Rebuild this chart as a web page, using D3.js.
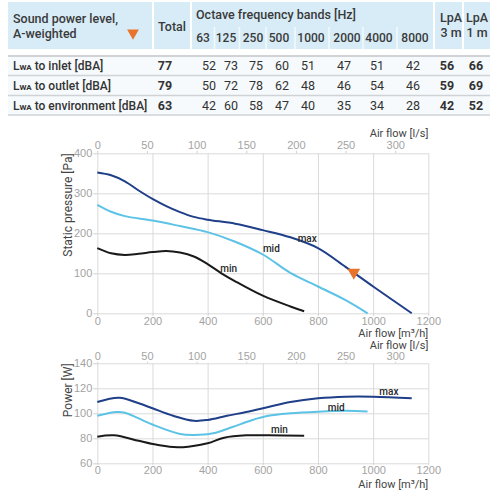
<!DOCTYPE html>
<html>
<head>
<meta charset="utf-8">
<script src="https://cdn.jsdelivr.net/npm/d3@7"></script>
<style>
body { margin: 0; background: #fff; }
svg { font-family: Roboto, "Open Sans", sans-serif; }
.tick text { fill: #a3a3a3; font-size: 11px; }
.ticks line { stroke: #cfcfcf; }
.grid line { stroke: #dadada; }
</style>
</head>
<body>
<svg id="chart" width="500" height="500"></svg>
<script>
// ---- table data ----
const bands = ["63", "125", "250", "500", "1000", "2000", "4000", "8000"];
const rowNames = ["to inlet [dBA]", "to outlet [dBA]", "to environment [dBA]"];
const totals = [77, 79, 63];
const bandValues = [
  [52, 73, 75, 60, 51, 47, 51, 42],
  [50, 72, 78, 62, 48, 46, 54, 46],
  [42, 60, 58, 47, 40, 35, 34, 28]
];
const lpa3 = [56, 59, 42];
const lpa1 = [66, 69, 52];

// ---- curve data: [air flow m3/h, value] ----
const pressureMax = [[0,352],[50,345],[100,330],[150,307],[200,286],[250,268],[300,253],[350,241],[400,234],[500,224],[600,208],[700,190],[800,163],[900,116],[1000,67],[1140,0]];
const pressureMid = [[0,271],[50,254],[100,243],[200,232],[300,218],[400,203],[500,179],[600,147],[700,101],[800,67],[900,33],[980,0]];
const pressureMin = [[0,163],[50,150],[100,146],[150,149],[200,153],[250,156],[300,152],[350,142],[400,123],[450,100],[500,80],[600,44],[700,17],[750,5]];
const powerMax = [[0,109],[80,112.5],[150,108],[200,104],[275,98],[350,94],[400,94.7],[470,98],[540,101],[620,105],[700,109],[800,112],[900,113.3],[1000,113.3],[1140,112]];
const powerMid = [[0,98],[70,101],[100,100.5],[200,91],[300,83.5],[350,82.7],[420,84],[490,89],[560,94.5],[620,98],[700,100],[800,101.3],[900,102],[980,101.5]];
const powerMin = [[0,81.3],[60,82.4],[150,78],[200,75.5],[275,73],[330,73.3],[400,76],[460,80.5],[540,82.4],[620,82.4],[750,82.1]];
const operatingPoint = [930, 100];

const flowTicks = [0, 200, 400, 600, 800, 1000, 1200];
const lsTicks = [0, 50, 100, 150, 200, 250, 300];
const pressureTicks = [0, 100, 200, 300, 400];
const powerTicks = [60, 80, 100, 120, 140];

const colors = { max: "#1f3f88", mid: "#5cc3e6", min: "#1a1a1a" };
const orange = "#e8732c";

const svg = d3.select("#chart");

// ================= TABLE =================
const tbl = svg.append("g");
const headFill = "#d7ecf7";
tbl.append("rect").attr("x", 8).attr("y", 2).attr("width", 482).attr("height", 47).attr("fill", headFill);

// column centres (header / values)
const bandHeadX = [203, 226, 253, 279, 311, 347, 379, 415];
const bandValX = [209, 231, 256, 282, 308, 344, 377, 413];
const totalHeadX = 172, totalValX = 165;
const lpa3HeadX = 451, lpa3ValX = 447;
const lpa1HeadX = 477, lpa1ValX = 476;

// white separators
[153, 191, 434, 463].forEach(x => {
  tbl.append("line").attr("x1", x).attr("x2", x).attr("y1", 2).attr("y2", 49)
    .attr("stroke", "#fff").attr("stroke-width", 2);
});
d3.pairs(bandHeadX).forEach(([a, b]) => {
  const x = (a + b) / 2;
  tbl.append("line").attr("x1", x).attr("x2", x).attr("y1", 27).attr("y2", 49)
    .attr("stroke", "#fff").attr("stroke-opacity", 0.7).attr("stroke-width", 1.5);
});

const headText = (x, y, t, anchor) => tbl.append("text").attr("x", x).attr("y", y)
  .attr("text-anchor", anchor || "middle").attr("font-size", 12.5).attr("font-weight", 500)
  .attr("fill", "#3a3a3a").text(t);

headText(13, 23, "Sound power level,", "start");
headText(13, 38, "A-weighted", "start");
headText(totalHeadX, 31, "Total");
headText(196, 19, "Octave frequency bands [Hz]", "start");
bands.forEach((b, i) => headText(bandHeadX[i], 42, b).attr("font-size", 12));
headText(lpa3HeadX, 22, "LpA"); headText(lpa3HeadX, 37, "3 m");
headText(lpa1HeadX, 22, "LpA"); headText(lpa1HeadX, 37, "1 m");

// orange marker in header
tbl.append("path").attr("d", d3.symbol(d3.symbolTriangle, 60)())
  .attr("transform", "translate(133,33) rotate(180)").attr("fill", orange);

// rows
const rowY = [65, 85, 105];
tbl.append("rect").attr("x", 8).attr("y", 56).attr("width", 482).attr("height", 59).attr("fill", "#f7fafc");
[56, 75.5, 95.5, 115].forEach((y, i) => {
  tbl.append("line").attr("x1", 8).attr("x2", 490).attr("y1", y).attr("y2", y)
    .attr("stroke", "#cfd3d6").attr("stroke-width", i === 0 ? 2 : 1.5);
});

rowNames.forEach((name, r) => {
  const t = tbl.append("text").attr("x", 13).attr("y", rowY[r] + 4.5)
    .attr("font-size", 12).attr("font-weight", 500).attr("fill", "#333");
  t.append("tspan").text("L");
  t.append("tspan").attr("font-size", 8).attr("font-weight", 700).text("WA");
  t.append("tspan").text(" " + name);

  const cell = (x, v, bold) => tbl.append("text").attr("x", x).attr("y", rowY[r] + 4.5)
    .attr("text-anchor", "middle").attr("font-size", 12.5)
    .attr("font-weight", bold ? 700 : 400).attr("fill", "#333").text(v);
  cell(totalValX, totals[r], true);
  bandValues[r].forEach((v, i) => cell(bandValX[i], v, false));
  cell(lpa3ValX, lpa3[r], true);
  cell(lpa1ValX, lpa1[r], true);
});

// ================= CHARTS =================
const x = d3.scaleLinear().domain([0, 1200]).range([97.3, 428.3]);
const xls = d3.scaleLinear().domain([0, 1200 / 3.6]).range([97.3, 428.3]);
const fmt = d3.format("d");

function drawChart(opts) {
  const { y, ticks, title, series, labels, top, bottom, tickSz } = opts;
  const g = svg.append("g");
  const h = bottom - top;

  // grid
  g.append("g").attr("class", "grid").attr("transform", `translate(0,${bottom})`)
    .call(d3.axisBottom(x).tickValues(flowTicks).tickSize(-h).tickFormat(""))
    .call(s => s.select(".domain").remove());
  g.append("g").attr("class", "grid").attr("transform", `translate(${x(0)},0)`)
    .call(d3.axisLeft(y).tickValues(ticks).tickSize(-(x(1200) - x(0))).tickFormat(""))
    .call(s => s.select(".domain").remove());

  // labelled axes
  g.append("g").attr("class", "ticks").attr("transform", `translate(0,${bottom})`)
    .call(d3.axisBottom(x).tickValues(flowTicks).tickSize(tickSz).tickPadding(1.5).tickFormat(fmt))
    .call(s => s.select(".domain").remove());
  g.append("g").attr("class", "ticks").attr("transform", `translate(0,${top})`)
    .call(d3.axisTop(xls).tickValues(lsTicks).tickSize(tickSz).tickPadding(1.5).tickFormat(fmt))
    .call(s => s.select(".domain").remove());
  g.append("g").attr("class", "ticks").attr("transform", `translate(${x(0)},0)`)
    .call(d3.axisLeft(y).tickValues(ticks).tickSize(4).tickPadding(1).tickFormat(fmt))
    .call(s => s.select(".domain").remove());

  // axis titles
  g.append("text").attr("transform", `translate(72,${top}) rotate(-90)`)
    .attr("text-anchor", "end").attr("font-size", 12).attr("fill", "#444").text(title);
  g.append("text").attr("x", x(1200)).attr("y", opts.lsTitleY).attr("text-anchor", "end")
    .attr("font-size", 11).attr("fill", "#444").text("Air flow [l/s]");
  g.append("text").attr("x", x(1200)).attr("y", opts.m3TitleY).attr("text-anchor", "end")
    .attr("font-size", 11).attr("fill", "#444").text("Air flow [m³/h]");

  // curves
  const line = d3.line().x(d => x(d[0])).y(d => y(d[1])).curve(d3.curveCatmullRom.alpha(0.5));
  series.forEach(s => {
    g.append("path").datum(s.data).attr("d", line).attr("fill", "none")
      .attr("stroke", colors[s.name]).attr("stroke-width", 2);
  });
  labels.forEach(l => {
    g.append("text").attr("x", x(l.at[0])).attr("y", y(l.at[1]) + 3.5)
      .attr("text-anchor", "middle").attr("font-size", 10).attr("font-weight", 500)
      .attr("fill", "#2a2a2a").text(l.name);
  });
  return g;
}

const yP = d3.scaleLinear().domain([0, 400]).range([313.3, 153.3]);
const g1 = drawChart({
  y: yP, ticks: pressureTicks, title: "Static pressure [Pa]", top: 153.3, bottom: 313.3, tickSz: 2.5,
  lsTitleY: 136.5, m3TitleY: 337,
  series: [{ name: "max", data: pressureMax }, { name: "mid", data: pressureMid }, { name: "min", data: pressureMin }],
  labels: [{ name: "max", at: [761, 188] }, { name: "mid", at: [631, 161] }, { name: "min", at: [476, 113] }]
});
g1.append("path").attr("d", d3.symbol(d3.symbolTriangle, 70)())
  .attr("transform", `translate(${x(operatingPoint[0])},${yP(operatingPoint[1]) - 1}) rotate(180)`)
  .attr("fill", orange);

const yW = d3.scaleLinear().domain([60, 140]).range([463.3, 363.3]);
drawChart({
  y: yW, ticks: powerTicks, title: "Power [W]", top: 363.3, bottom: 463.3, tickSz: 1.5,
  lsTitleY: 348.5, m3TitleY: 487.5,
  series: [{ name: "max", data: powerMax }, { name: "mid", data: powerMid }, { name: "min", data: powerMin }],
  labels: [{ name: "max", at: [1057, 117.8] }, { name: "mid", at: [866, 105] }, { name: "min", at: [660, 86.7] }]
});
</script>
</body>
</html>
